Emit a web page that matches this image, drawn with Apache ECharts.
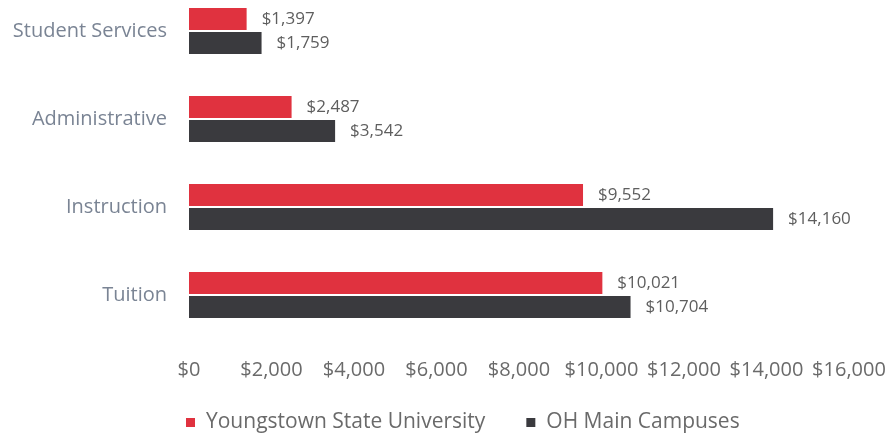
<!DOCTYPE html>
<html>
<head>
<meta charset="utf-8">
<script src="https://cdn.jsdelivr.net/npm/echarts@6/dist/echarts.min.js"></script>
<style>
  html, body { margin: 0; padding: 0; background: #ffffff; overflow: hidden; }
  /* canvas is taller than the window and lifted so the first band sits near the top edge */
  #chart { width: 891px; height: 448px; margin-top: -13px; }
</style>
</head>
<body>
<div id="chart"></div>
<script>
// Expenditure per student, by category
const categories = ['Student Services', 'Administrative', 'Instruction', 'Tuition'];
const youngstownValues = [1397, 2487, 9552, 10021];
const ohioMainValues = [1759, 3542, 14160, 10704];
const seriesNames = ['Youngstown State University', 'OH Main Campuses'];

const fontFamily = '"Open Sans", "Noto Sans", sans-serif';
const money = v => '$' + Number(v).toLocaleString('en-US');

const chart = echarts.init(document.getElementById('chart'));

const labelStyle = {
  show: true,
  position: 'right',
  distance: 15,
  color: '#5e5e5e',
  fontSize: 17,
  fontFamily: fontFamily,
  formatter: p => money(p.value)
};

chart.setOption({
  animation: false,
  backgroundColor: '#ffffff',
  grid: { left: 189, width: 660, top: 0, height: 352, containLabel: false },
  xAxis: {
    type: 'value',
    min: 0,
    max: 16000,
    interval: 2000,
    axisLine: { show: false },
    axisTick: { show: false },
    splitLine: { show: false },
    axisLabel: {
      margin: 21,
      color: '#6a6a6a',
      fontSize: 20,
      fontFamily: fontFamily,
      formatter: v => money(v)
    }
  },
  yAxis: {
    type: 'category',
    data: categories,
    inverse: true,
    axisLine: { show: false },
    axisTick: { show: false },
    axisLabel: {
      margin: 22,
      color: '#7a8494',
      fontSize: 20,
      fontFamily: fontFamily
    }
  },
  legend: {
    top: 425,
    left: 186,
    padding: 0,
    itemWidth: 9,
    itemHeight: 9,
    itemGap: 41,
    icon: 'rect',
    textStyle: { color: '#6a6a6a', fontSize: 21, fontFamily: fontFamily, padding: [0, 0, 0, 6] },
    data: seriesNames
  },
  series: [
    {
      name: seriesNames[0],
      type: 'bar',
      data: youngstownValues,
      barWidth: 22,
      barGap: '10%',
      itemStyle: { color: '#e0323f' },
      label: labelStyle
    },
    {
      name: seriesNames[1],
      type: 'bar',
      data: ohioMainValues,
      barWidth: 22,
      barGap: '10%',
      itemStyle: { color: '#3a3a3e' },
      label: labelStyle
    }
  ]
});
</script>
</body>
</html>
